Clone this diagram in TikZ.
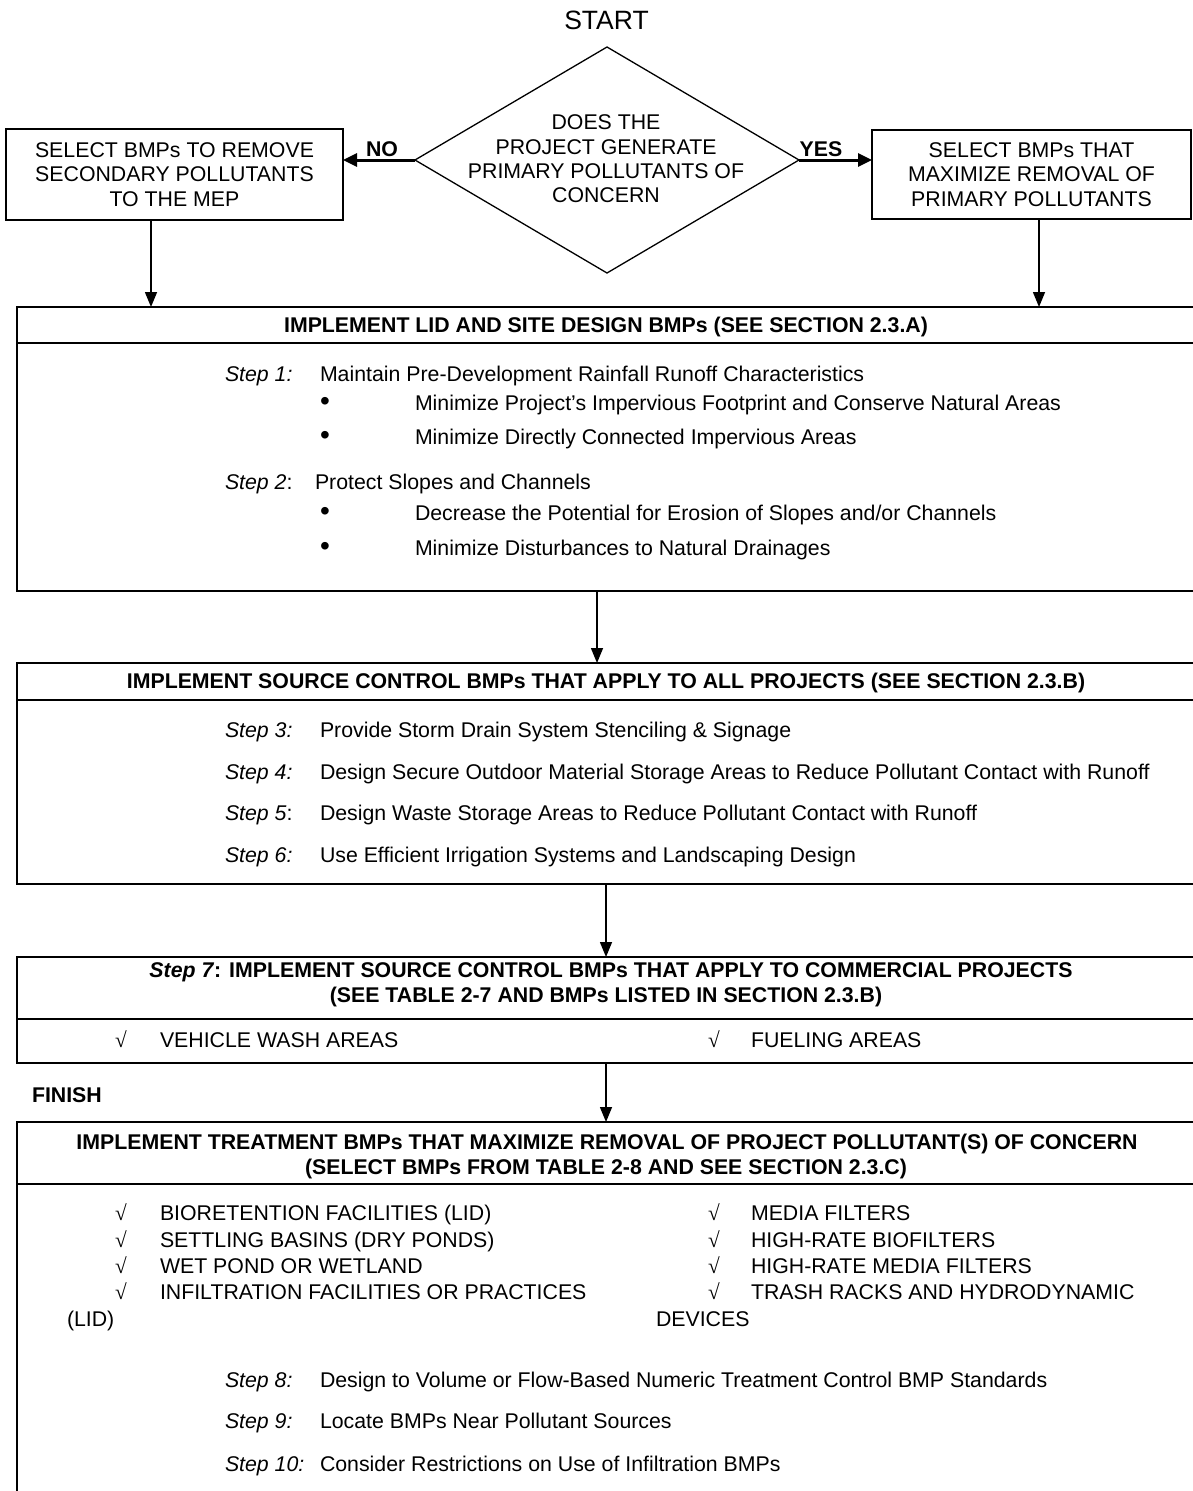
\documentclass[tikz,border=0pt]{standalone}
\usepackage{fontspec}
\setmainfont{Liberation Sans}
\newfontfamily\checkfont{Liberation Serif}
\usetikzlibrary{arrows.meta,shapes.geometric}
\begin{document}
\begin{tikzpicture}[x=1pt,y=-1pt,
  every node/.style={inner sep=0pt,outer sep=0pt},
  frame/.style={draw,line width=2.6pt,anchor=north west},
  rule/.style={line width=2.6pt},
  selbox/.style={draw,line width=2pt,align=center,font=\fontsize{21.3}{24.5}\selectfont},
  arr/.style={line width=1.5pt,-{Triangle[length=15pt,width=12pt]}},
  barr/.style={line width=3pt,-{Triangle[length=14pt,width=13pt]}},
  txt/.style={anchor=base west,font=\fontsize{21.3}{25}\selectfont},
  dot/.style={anchor=base west,font=\fontsize{28}{25}\selectfont},
  stp/.style={anchor=base west,font=\fontsize{21.3}{25}\selectfont\itshape},
  hdr/.style={anchor=base,font=\fontsize{21.3}{25}\selectfont\bfseries},
  lbl/.style={anchor=base,font=\fontsize{21.3}{25}\selectfont\bfseries},
  chk/.style={anchor=base west,font=\fontsize{21.3}{25}\checkfont},
]
\path[fill=white] (0,0) rectangle (1193,1491);
\useasboundingbox (0,0) rectangle (1193,1491);
\clip (0,0) rectangle (1193,1491);

% decision at the top
\node[font=\fontsize{26.5}{30}\selectfont] (start) at (606.5,20) {START};
\node[draw,diamond,line width=1.3pt,minimum width=384pt,minimum height=226pt] (dec) at (607,160) {};
\node[align=center,font=\fontsize{21.3}{24.3}\selectfont] (dectxt) at (606,159)
  {DOES THE\\PROJECT GENERATE\\PRIMARY POLLUTANTS OF\\CONCERN};

\node[selbox,minimum width=337pt,minimum height=91pt] (nobox) at (174.5,174.5)
  {SELECT BMPs TO REMOVE\\SECONDARY POLLUTANTS\\TO THE MEP};
\node[selbox,minimum width=319pt,minimum height=89pt] (yesbox) at (1031.5,174.5)
  {SELECT BMPs THAT\\MAXIMIZE REMOVAL OF\\PRIMARY POLLUTANTS};

\draw[barr] (dec.west) -- (dec.west -| nobox.east);
\draw[barr] (dec.east) -- (dec.east -| yesbox.west);
\node[lbl] (nolab) at (382,156) {NO};
\node[lbl] (yeslab) at (821,156) {YES};

% step frames
\node[frame,minimum width=1183pt,minimum height=284pt] (lid) at (17,307) {};
\node[frame,minimum width=1183pt,minimum height=221pt] (src) at (17,663) {};
\node[frame,minimum width=1183pt,minimum height=106pt] (com) at (17,957) {};
\node[frame,minimum width=1183pt,minimum height=400pt] (trt) at (17,1122) {};

\coordinate (d1) at (0,343);
\coordinate (d2) at (0,700);
\coordinate (d3) at (0,1019);
\coordinate (d4) at (0,1184);
\draw[rule] (lid.west |- d1) -- (lid.east |- d1);
\draw[rule] (src.west |- d2) -- (src.east |- d2);
\draw[rule] (com.west |- d3) -- (com.east |- d3);
\draw[rule] (trt.west |- d4) -- (trt.east |- d4);

% connectors
\coordinate (xa) at (151,0);
\coordinate (xb) at (1039,0);
\coordinate (xc) at (597,0);
\coordinate (xd) at (606,0);
\draw[arr] (nobox.south -| xa) -- (lid.north -| xa);
\draw[arr] (yesbox.south -| xb) -- (lid.north -| xb);
\draw[arr] (lid.south -| xc) -- (src.north -| xc);
\draw[arr] (src.south -| xd) -- (com.north -| xd);
\draw[arr] (com.south -| xd) -- (trt.north -| xd);

% LID and site design
\node[hdr] (h1) at (606,332.5) {IMPLEMENT LID AND SITE DESIGN BMPs (SEE SECTION 2.3.A)};
\node[stp] (s1l) at (225,381.5) {Step 1:};
\node[txt] (s1t) at (320,381.5) {Maintain Pre-Development Rainfall Runoff Characteristics};
\node[dot] (b1) at (320,410.5) {•};
\node[txt] (b1t) at (415,410.5) {Minimize Project’s Impervious Footprint and Conserve Natural Areas};
\node[dot] (b2) at (320,444.5) {•};
\node[txt] (b2t) at (415,444.5) {Minimize Directly Connected Impervious Areas};
\node[stp] (s2l) at (225,489.5) {Step 2\textup{:}};
\node[txt] (s2t) at (315,489.5) {Protect Slopes and Channels};
\node[dot] (b3) at (320,520.5) {•};
\node[txt] (b3t) at (415,520.5) {Decrease the Potential for Erosion of Slopes and/or Channels};
\node[dot] (b4) at (320,555.5) {•};
\node[txt] (b4t) at (415,555.5) {Minimize Disturbances to Natural Drainages};

% source control, all projects
\node[hdr] (h2) at (606,688.5) {IMPLEMENT SOURCE CONTROL BMPs THAT APPLY TO ALL PROJECTS (SEE SECTION 2.3.B)};
\node[stp] (s3l) at (225,737.5) {Step 3:};
\node[txt] (s3t) at (320,737.5) {Provide Storm Drain System Stenciling \& Signage};
\node[stp] (s4l) at (225,779.5) {Step 4:};
\node[txt] (s4t) at (320,779.5) {Design Secure Outdoor Material Storage Areas to Reduce Pollutant Contact with Runoff};
\node[stp] (s5l) at (225,820.5) {Step 5\textup{:}};
\node[txt] (s5t) at (320,820.5) {Design Waste Storage Areas to Reduce Pollutant Contact with Runoff};
\node[stp] (s6l) at (225,862.5) {Step 6:};
\node[txt] (s6t) at (320,862.5) {Use Efficient Irrigation Systems and Landscaping Design};

% source control, commercial projects
\node[hdr] (h3a) at (611,977.5) {\textit{Step 7}: IMPLEMENT SOURCE CONTROL BMPs THAT APPLY TO COMMERCIAL PROJECTS};
\node[hdr] (h3b) at (606,1002.5) {(SEE TABLE 2-7 AND BMPs LISTED IN SECTION 2.3.B)};
\node[chk] (c1) at (115,1047.5) {√};
\node[txt] (c1t) at (160,1047.5) {VEHICLE WASH AREAS};
\node[chk] (c2) at (708,1047.5) {√};
\node[txt] (c2t) at (751,1047.5) {FUELING AREAS};

\node[anchor=base west,font=\fontsize{21.3}{25}\selectfont\bfseries] (finish) at (32,1102.5) {FINISH};

% treatment
\node[hdr] (h4a) at (607,1149.5) {IMPLEMENT TREATMENT BMPs THAT MAXIMIZE REMOVAL OF PROJECT POLLUTANT(S) OF CONCERN};
\node[hdr] (h4b) at (606,1174.5) {(SELECT BMPs FROM TABLE 2-8 AND SEE SECTION 2.3.C)};
\node[chk] (t1) at (115,1220.5) {√};
\node[txt] (t1t) at (160,1220.5) {BIORETENTION FACILITIES (LID)};
\node[chk] (t2) at (115,1247.5) {√};
\node[txt] (t2t) at (160,1247.5) {SETTLING BASINS (DRY PONDS)};
\node[chk] (t3) at (115,1273.5) {√};
\node[txt] (t3t) at (160,1273.5) {WET POND OR WETLAND};
\node[chk] (t4) at (115,1299.5) {√};
\node[txt] (t4t) at (160,1299.5) {INFILTRATION FACILITIES OR PRACTICES};
\node[txt] (t4w) at (67,1326.5) {(LID)};
\node[chk] (r1) at (708,1220.5) {√};
\node[txt] (r1t) at (751,1220.5) {MEDIA FILTERS};
\node[chk] (r2) at (708,1247.5) {√};
\node[txt] (r2t) at (751,1247.5) {HIGH-RATE BIOFILTERS};
\node[chk] (r3) at (708,1273.5) {√};
\node[txt] (r3t) at (751,1273.5) {HIGH-RATE MEDIA FILTERS};
\node[chk] (r4) at (708,1299.5) {√};
\node[txt] (r4t) at (751,1299.5) {TRASH RACKS AND HYDRODYNAMIC};
\node[txt] (r4w) at (656,1326.5) {DEVICES};
\node[stp] (s8l) at (225,1387.5) {Step 8:};
\node[txt] (s8t) at (320,1387.5) {Design to Volume or Flow-Based Numeric Treatment Control BMP Standards};
\node[stp] (s9l) at (225,1428.5) {Step 9:};
\node[txt] (s9t) at (320,1428.5) {Locate BMPs Near Pollutant Sources};
\node[stp] (s10l) at (225,1471.5) {Step 10:};
\node[txt] (s10t) at (320,1471.5) {Consider Restrictions on Use of Infiltration BMPs};
\end{tikzpicture}
\end{document}
